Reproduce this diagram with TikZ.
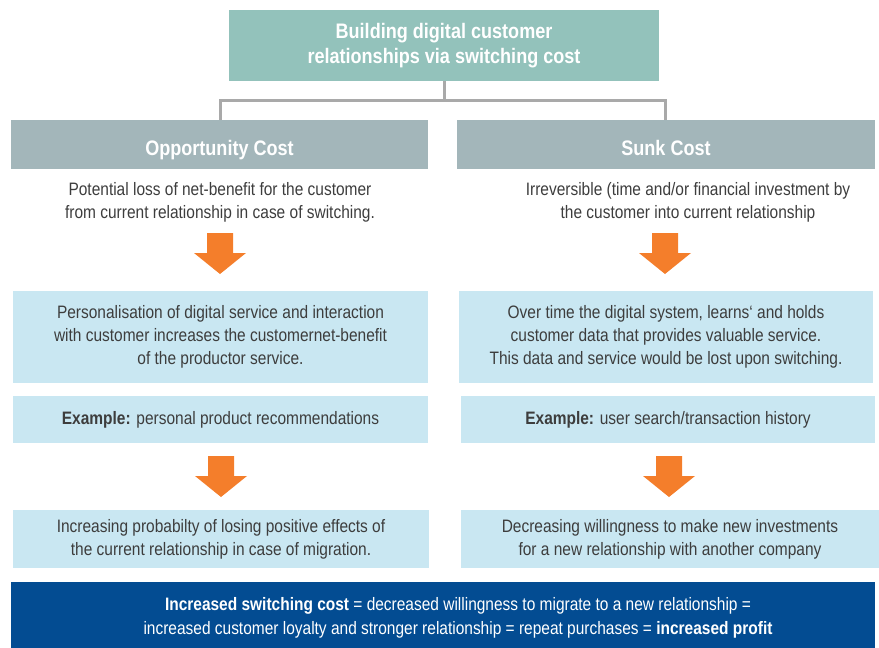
\documentclass[tikz,border=0pt]{standalone}
\usepackage{fontspec}
\setmainfont{Liberation Sans}[FakeStretch=0.86]
\definecolor{teal}{HTML}{93C2BB}
\definecolor{headgray}{HTML}{A3B6BA}
\definecolor{paleblue}{HTML}{C9E7F2}
\definecolor{orangeA}{HTML}{F47E2B}
\definecolor{navy}{HTML}{034C92}
\definecolor{linegray}{HTML}{A9A9A9}
\definecolor{txt}{HTML}{3D3D3D}
\begin{document}
\begin{tikzpicture}[x=1pt,y=-1pt,
  titlebox/.style={fill=teal,text=white,font=\fontsize{21}{25.5}\selectfont\bfseries,
    align=center,inner sep=0pt,minimum width=430pt,minimum height=71pt},
  headbox/.style={fill=headgray,text=white,font=\fontsize{21}{25}\selectfont\bfseries,
    inner sep=0pt,minimum height=49pt,text height=22pt,text depth=0pt},
  desc/.style={text=txt,font=\fontsize{18}{23}\selectfont,align=center,inner sep=0pt},
  bluebox/.style={fill=paleblue,text=txt,font=\fontsize{18}{23}\selectfont,
    align=center,inner sep=0pt},
  band/.style={fill=navy,inner sep=0pt},
  bandtext/.style={text=white,font=\fontsize{18}{24}\selectfont,align=center,inner sep=0pt},
  link/.style={draw=linegray,line width=3pt},
  blockarrow/.pic={\fill[orangeA] (-13,0) -- (13,0) -- (13,20) -- (26,20)
    -- (0,41) -- (-26,20) -- (-13,20) -- cycle;}
]
\useasboundingbox (0,0) rectangle (879,648);

% title and the two branches
\node[titlebox] (title) at (444,45.5) {Building digital customer\\relationships via switching cost};
\node[headbox,minimum width=417pt] (oc) at (219.5,144.5) {Opportunity Cost};
\node[headbox,minimum width=418pt] (sc) at (666,144.5) {Sunk Cost};
\coordinate (fork) at (444,100);
\draw[link] (title.south) -- (fork) -| (220,120);
\draw[link] (fork) -| (665,120);

% short definitions
\node[desc] (ocd) at (220,202) {Potential loss of net-benefit for the customer\\from current relationship in case of switching.};
\node[desc] (scd) at (688,202) {Irreversible (time and/or financial investment by\\the customer into current relationship};

% mechanism boxes
\node[bluebox,minimum width=415pt,minimum height=92pt] (ocm) at (220.5,337)
  {Personalisation of digital service and interaction\\with customer increases the customernet-benefit\\of the productor service.};
\node[bluebox,minimum width=414pt,minimum height=92pt] (scm) at (666,337)
  {Over time the digital system, learns‘ and holds\\customer data that provides valuable service.\\This data and service would be lost upon switching.};

% examples
\node[bluebox,minimum width=415pt,minimum height=47pt] (oce) at (220.5,419.5)
  {\textbf{Example:} personal product recommendations};
\node[bluebox,minimum width=414pt,minimum height=47pt] (sce) at (668,419.5)
  {\textbf{Example:} user search/transaction history};

% consequences
\node[bluebox,minimum width=416pt,minimum height=58pt] (ocr) at (221,539)
  {Increasing probabilty of losing positive effects of\\the current relationship in case of migration.};
\node[bluebox,minimum width=418pt,minimum height=58pt] (scr) at (670,539)
  {Decreasing willingness to make new investments\\for a new relationship with another company};

% orange block arrows
\pic at (220,233) {blockarrow};
\pic at (665,233) {blockarrow};
\pic at (221,456) {blockarrow};
\pic at (669,456) {blockarrow};

% conclusion band
\node[band,minimum width=864pt,minimum height=66pt] (sum) at (443,615) {};
\node[bandtext] (sumtext) at (458,618)
  {\textbf{Increased switching cost} = decreased willingness to migrate to a new relationship =\\
   increased customer loyalty and stronger relationship = repeat purchases = \textbf{increased profit}};
\end{tikzpicture}
\end{document}
